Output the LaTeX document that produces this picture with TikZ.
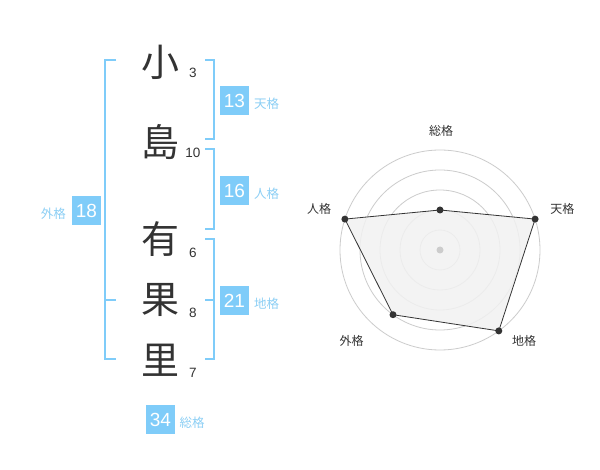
\documentclass[tikz,border=0pt]{standalone}
\usepackage{fontspec}
\setmainfont{Liberation Sans}
\newfontfamily\jp{Noto Sans CJK JP}
\definecolor{kblue}{HTML}{7FCCF9}
\definecolor{lblue}{HTML}{8CCFF5}
\definecolor{ink}{HTML}{333333}
\definecolor{ringc}{HTML}{CCCCCC}
\definecolor{areac}{HTML}{F1F1F1}
\begin{document}
\begin{tikzpicture}[x=1pt,y=-1pt,
 kanji/.style={font=\jp\fontsize{38}{38}\selectfont, text=ink, inner sep=0pt},
 strokes/.style={font=\fontsize{13.5}{13.5}\selectfont, text=ink, inner sep=0pt},
 numbox/.style={fill=kblue, text=white, minimum width=29pt, minimum height=29pt, inner sep=0pt, font=\fontsize{19}{19}\selectfont},
 kaku/.style={font=\jp\fontsize{12.5}{12.5}\selectfont, text=lblue, inner sep=0pt},
 bracket/.style={draw=kblue, line width=2pt, line join=miter},
 ring/.style={draw=ringc, line width=0.8pt},
 axislabel/.style={font=\jp\fontsize{12}{12}\selectfont, text=ink, inner sep=0pt},
 dot/.style={circle, fill=ink, inner sep=0pt, minimum size=7pt},
]
\useasboundingbox (0,0) rectangle (600,470);
\fill[white] (0,0) rectangle (600,470);

% name characters
\node[kanji] (c1) at (160,62) {小};
\node[kanji] (c2) at (160,142) {島};
\node[kanji] (c3) at (160,239) {有};
\node[kanji] (c4) at (160,300) {果};
\node[kanji] (c5) at (160,360) {里};

\node[strokes] (s1) at (193,72.5) {3};
\node[strokes] (s2) at (193,153) {10};
\node[strokes] (s3) at (193,252.5) {6};
\node[strokes] (s4) at (193,312.5) {8};
\node[strokes] (s5) at (193,372.5) {7};

% brackets
\draw[bracket] (116,60) -- (105,60) -- (105,359) -- (116,359);
\draw[bracket] (105,300) -- (116,300);
\draw[bracket] (205,60) -- (214,60) -- (214,139) -- (205,139);
\draw[bracket] (205,149) -- (214,149) -- (214,229) -- (205,229);
\draw[bracket] (205,239) -- (214,239) -- (214,359) -- (205,359);
\draw[bracket] (205,300) -- (214,300);

% boxes
\node[numbox] (b1) at (234.5,100.5) {13};
\node[kaku, anchor=west] (l1) at (254,104) {天格};
\node[numbox] (b2) at (234.5,190.5) {16};
\node[kaku, anchor=west] (l2) at (254,194) {人格};
\node[numbox] (b3) at (234.5,300.5) {21};
\node[kaku, anchor=west] (l3) at (254,303.5) {地格};
\node[numbox] (b4) at (86.5,210.5) {18};
\node[kaku] (l4) at (53.3,214) {外格};
\node[numbox] (b5) at (160.5,419.5) {34};
\node[kaku] (l5) at (192,422.5) {総格};

% radar chart
\coordinate (O) at (440,250);
\foreach \r in {20,40,60,80,100} \draw[ring] (O) circle[radius=\r];
\coordinate (pS) at (440,210);
\coordinate (pT) at (535.1,219.1);
\coordinate (pC) at (498.8,330.9);
\coordinate (pG) at (393.0,314.7);
\coordinate (pJ) at (344.9,219.1);
\filldraw[fill=areac, fill opacity=0.85, draw=ink, line width=0.8pt] (pS) -- (pT) -- (pC) -- (pG) -- (pJ) -- cycle;
\node[circle, fill=ringc, inner sep=0pt, minimum size=7pt] (ctr) at (O) {};
\foreach \p in {pS,pT,pC,pG,pJ} \node[dot] at (\p) {};

\node[axislabel] (a1) at (441,130.5) {総格};
\node[axislabel] (a2) at (562.3,209) {天格};
\node[axislabel] (a3) at (524,341) {地格};
\node[axislabel] (a4) at (351.7,341) {外格};
\node[axislabel] (a5) at (319,209) {人格};
\end{tikzpicture}
\end{document}
